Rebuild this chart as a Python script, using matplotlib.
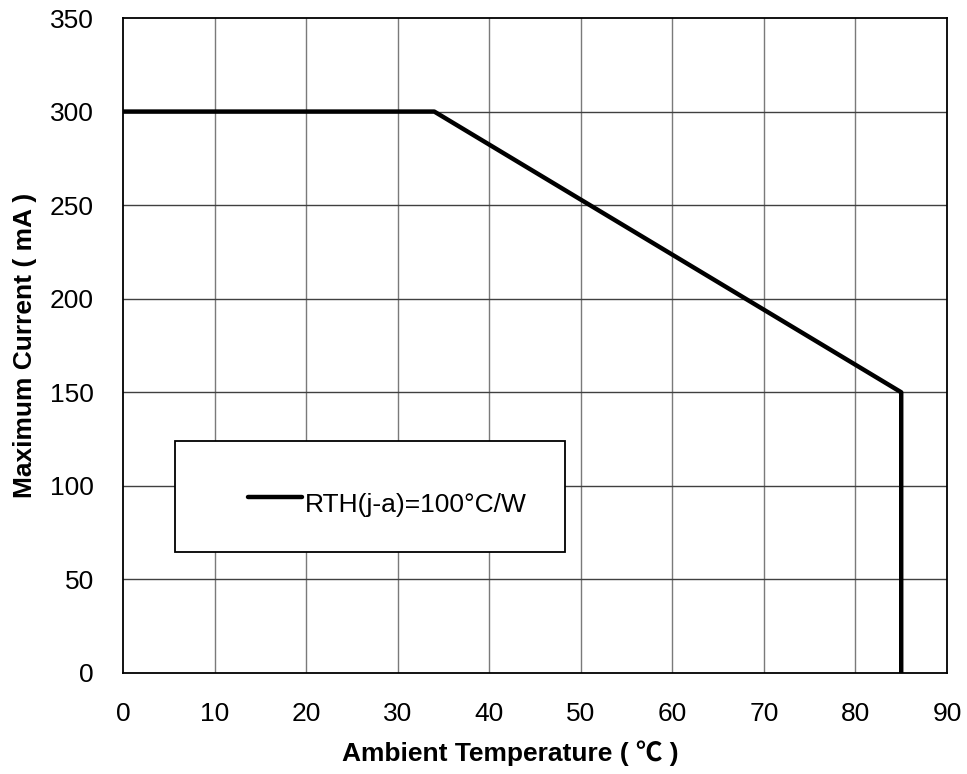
import matplotlib
matplotlib.use("Agg")
import matplotlib.pyplot as plt
from matplotlib.patches import Rectangle
from matplotlib.lines import Line2D

temps = [0, 34, 85, 85]
currents = [300, 300, 150, 0]
series_label = "RTH(j-a)=100°C/W"
x_ticks = [0, 10, 20, 30, 40, 50, 60, 70, 80, 90]
y_ticks = [0, 50, 100, 150, 200, 250, 300, 350]

plt.rcParams['font.family'] = ['Liberation Sans', 'Noto Sans CJK SC', 'DejaVu Sans']

fig = plt.figure(figsize=(9.67, 7.74), dpi=100)
ax = fig.add_axes([123/967, 1-673/774, 824/967, 655/774])
ax.set_xlim(0, 90)
ax.set_ylim(0, 350)
ax.set_xticks(x_ticks)
ax.set_yticks(y_ticks)
ax.tick_params(length=0, labelsize=19)
ax.tick_params(axis='x', pad=21)
ax.tick_params(axis='y', pad=21)
for x in x_ticks[1:-1]:
    ax.axvline(x, color='#7a7a7a', lw=1.0, zorder=1)
for y in y_ticks[1:-1]:
    ax.axhline(y, color='#404040', lw=1.0, zorder=1)
for s in ax.spines.values():
    s.set_linewidth(1.3)
    s.set_color('black')

ax.plot(temps, currents, color='black', lw=3.2, zorder=3, solid_capstyle='butt')

ax.set_xlabel("Ambient Temperature ( ℃ )", fontsize=19, fontweight='bold', labelpad=10,
              x=(510-123)/824)
ax.set_ylabel("Maximum Current ( mA )", fontsize=19, fontweight='bold', labelpad=9)

# legend box
bx0, bx1 = (175-123)/824, (565-123)/824
by0, by1 = (673-552)/655, (673-441)/655
ax.add_patch(Rectangle((bx0, by0), bx1-bx0, by1-by0, transform=ax.transAxes,
                       facecolor='white', edgecolor='black', lw=1.3, zorder=4))
ly = (673-497)/655
ax.add_line(Line2D([(248-123)/824, (302-123)/824], [ly, ly], transform=ax.transAxes,
                   color='black', lw=3.2, zorder=5, solid_capstyle='round'))
ax.text((305-123)/824, (673-512)/655, series_label, transform=ax.transAxes, fontsize=19,
        va='baseline', ha='left', zorder=5)

fig.savefig("out.png", dpi=100, facecolor='white')
